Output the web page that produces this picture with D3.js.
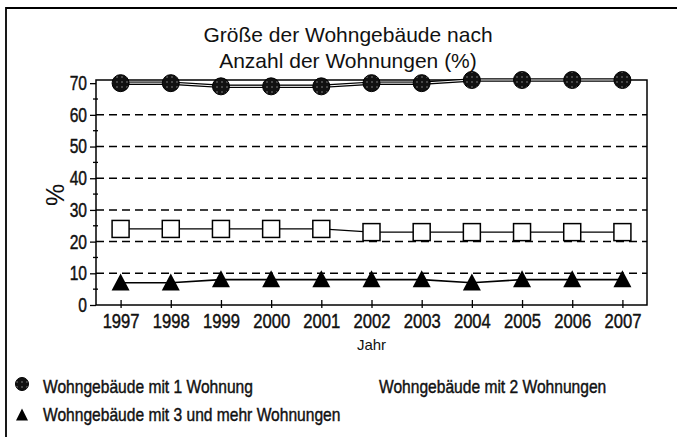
<!DOCTYPE html>
<html>
<head>
<meta charset="utf-8">
<script src="https://cdn.jsdelivr.net/npm/d3@7"></script>
<style>
  body { margin: 0; background: #fff; }
  text { font-family: "Liberation Sans", Arial, sans-serif; }
  .cond { stroke: #111; stroke-width: 0.45px; }
</style>
</head>
<body>
<div id="chart"></div>
<script>
// data
const years = ["1997", "1998", "1999", "2000", "2001", "2002", "2003", "2004", "2005", "2006", "2007"];
const oneFlat = [70, 70, 69, 69, 69, 70, 70, 71, 71, 71, 71];
const twoFlats = [24, 24, 24, 24, 24, 23, 23, 23, 23, 23, 23];
const threePlus = [7, 7, 8, 8, 8, 8, 8, 7, 8, 8, 8];
const yTicks = [0, 10, 20, 30, 40, 50, 60, 70];
const yMinor = [5, 15, 25, 35, 45, 55, 65];
const gridValues = [10, 20, 30, 40, 50, 60];
const titleLines = ["Größe der Wohngebäude nach", "Anzahl der Wohnungen (%)"];
const legendLabels = ["Wohngebäude mit 1 Wohnung", "Wohngebäude mit 2 Wohnungen", "Wohngebäude mit 3 und mehr Wohnungen"];

const W = 677, H = 437;
const plot = {left: 96, right: 647, top: 80, bottom: 305};

const svg = d3.select("#chart").append("svg")
    .attr("width", W)
    .attr("height", H);

// no narrow font installed, so squeeze the regular one
function condense(sel, k) {
    sel.each(function() {
        let len = this.getComputedTextLength();
        d3.select(this)
            .attr("class", "cond")
            .attr("textLength", len * k)
            .attr("lengthAdjust", "spacingAndGlyphs");
    });
}

// speckled fill for the circle markers
const defs = svg.append("defs");
const pat = defs.append("pattern")
    .attr("id", "speckle")
    .attr("patternUnits", "userSpaceOnUse")
    .attr("width", 5)
    .attr("height", 5);
pat.append("rect").attr("width", 5).attr("height", 5).attr("fill", "#111");
pat.append("circle").attr("cx", 2).attr("cy", 2).attr("r", 0.8).attr("fill", "#8a8a8a");

// outer border (top and left only, like the scan)
svg.append("path")
    .attr("d", `M6,${H} L6,8 L${W},8`)
    .attr("fill", "none")
    .attr("stroke", "#000")
    .attr("stroke-width", 1.8);

// title
const title = svg.append("text")
    .attr("text-anchor", "middle")
    .attr("font-size", 21)
    .attr("fill", "#111");
titleLines.forEach((t, i) => {
    title.append("tspan").attr("x", 348).attr("y", 42 + i * 26).text(t);
});

const x = d3.scalePoint().domain(years).range([plot.left, plot.right]).padding(0.49);
const y = d3.scaleLinear().domain([0, 71]).range([plot.bottom, plot.top]);

// dashed grid
svg.append("g")
    .selectAll("line")
    .data(gridValues)
    .join("line")
    .attr("x1", plot.left)
    .attr("x2", plot.right)
    .attr("y1", d => y(d))
    .attr("y2", d => y(d))
    .attr("stroke", "#000")
    .attr("stroke-width", 1.5)
    .attr("stroke-dasharray", "8,5");

// plot frame
svg.append("rect")
    .attr("x", plot.left)
    .attr("y", plot.top)
    .attr("width", plot.right - plot.left)
    .attr("height", plot.bottom - plot.top)
    .attr("fill", "none")
    .attr("stroke", "#000")
    .attr("stroke-width", 1.5);

// y axis
const yAxis = svg.append("g")
    .attr("transform", `translate(${plot.left},0)`)
    .call(d3.axisLeft(y).tickValues(yTicks).tickSize(6).tickPadding(3));
yAxis.select(".domain").remove();
yAxis.attr("font-family", null).attr("font-size", null);
yAxis.selectAll(".tick line").attr("stroke-width", 1.3);
yAxis.selectAll("text").attr("font-size", 20).attr("fill", "#111").call(condense, 0.78);

svg.append("g")
    .selectAll("line")
    .data(yMinor)
    .join("line")
    .attr("x1", plot.left - 3)
    .attr("x2", plot.left + 2)
    .attr("y1", d => y(d))
    .attr("y2", d => y(d))
    .attr("stroke", "#000")
    .attr("stroke-width", 1.3);

// x axis
const xAxis = svg.append("g")
    .attr("transform", `translate(0,${plot.bottom})`)
    .call(d3.axisBottom(x).tickSize(3).tickPadding(6));
xAxis.select(".domain").remove();
xAxis.attr("font-family", null).attr("font-size", null);
xAxis.selectAll(".tick line").attr("y1", -5).attr("stroke-width", 1.3);
xAxis.selectAll("text").attr("font-size", 20).attr("fill", "#111").call(condense, 0.83);

// axis titles
svg.append("text")
    .attr("transform", "translate(64,195) rotate(-90)")
    .attr("text-anchor", "middle")
    .attr("font-size", 25)
    .attr("fill", "#111")
    .text("%");

svg.append("text")
    .attr("x", (plot.left + plot.right) / 2)
    .attr("y", 350)
    .attr("text-anchor", "middle")
    .attr("font-size", 15)
    .attr("fill", "#111")
    .text("Jahr");

// lines
const line = d3.line().x((d, i) => x(years[i])).y(d => y(d));

// 1 Wohnung: double line
svg.append("path").datum(oneFlat).attr("d", line)
    .attr("fill", "none").attr("stroke", "#000").attr("stroke-width", 3.5);
svg.append("path").datum(oneFlat).attr("d", line)
    .attr("fill", "none").attr("stroke", "#fff").attr("stroke-width", 1);

svg.append("path").datum(twoFlats).attr("d", line)
    .attr("fill", "none").attr("stroke", "#000").attr("stroke-width", 1.3);

svg.append("path").datum(threePlus).attr("d", line)
    .attr("fill", "none").attr("stroke", "#000").attr("stroke-width", 1.6);

// markers
svg.append("g")
    .selectAll("circle")
    .data(oneFlat)
    .join("circle")
    .attr("cx", (d, i) => x(years[i]))
    .attr("cy", d => y(d))
    .attr("r", 8.5)
    .attr("fill", "url(#speckle)")
    .attr("stroke", "#000")
    .attr("stroke-width", 1);

svg.append("g")
    .selectAll("rect")
    .data(twoFlats)
    .join("rect")
    .attr("x", (d, i) => x(years[i]) - 8.5)
    .attr("y", d => y(d) - 8.5)
    .attr("width", 17)
    .attr("height", 17)
    .attr("fill", "#fff")
    .attr("stroke", "#000")
    .attr("stroke-width", 1.5);

const tri = (cx, cy, w, h) => `M${cx},${cy - h * 0.55} L${cx + w / 2},${cy + h * 0.45} L${cx - w / 2},${cy + h * 0.45} Z`;

svg.append("g")
    .selectAll("path")
    .data(threePlus)
    .join("path")
    .attr("d", (d, i) => tri(x(years[i]), y(d), 18, 17))
    .attr("fill", "#000");

// legend
svg.append("circle")
    .attr("cx", 22).attr("cy", 384).attr("r", 6.5)
    .attr("fill", "url(#speckle)").attr("stroke", "#000").attr("stroke-width", 1);
svg.append("path")
    .attr("d", tri(22, 415, 12, 12))
    .attr("fill", "#000");

const legendPos = [[43, 393], [379, 393], [43, 421]];
svg.append("g")
    .selectAll("text")
    .data(legendLabels)
    .join("text")
    .attr("x", (d, i) => legendPos[i][0])
    .attr("y", (d, i) => legendPos[i][1])
    .attr("font-size", 19)
    .attr("fill", "#111")
    .text(d => d)
    .call(condense, 0.82);
</script>
</body>
</html>
